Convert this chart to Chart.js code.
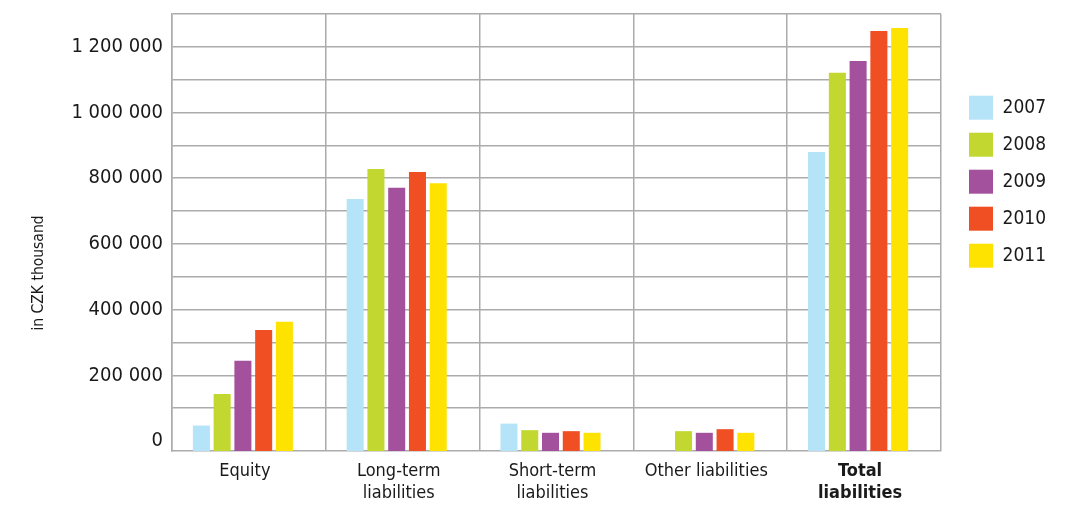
<!DOCTYPE html>
<html>
<head>
<meta charset="utf-8">
<script src="https://cdn.jsdelivr.net/npm/chart.js@4.4.1/dist/chart.umd.min.js"></script>
<style>
  html, body { margin: 0; padding: 0; background: #ffffff; }
  #wrap { width: 1072px; height: 505px; position: relative; }
</style>
</head>
<body>
<div id="wrap"><canvas id="c"></canvas></div>
<script>
// ---- data ----
const categories = [
  ['Equity'],
  ['Long-term', 'liabilities'],
  ['Short-term', 'liabilities'],
  ['Other liabilities'],
  ['Total', 'liabilities']
];
const years = ['2007', '2008', '2009', '2010', '2011'];
const values2007 = [47000, 737000, 53000, null, 880000];
const values2008 = [143000, 828000, 33000, 30000, 1121000];
const values2009 = [244000, 771000, 25000, 25000, 1157000];
const values2010 = [338000, 819000, 30000, 36000, 1248000];
const values2011 = [363000, 785000, 25000, 25000, 1257000];
const seriesColors = ['#b5e3f8', '#c2d72f', '#a3519c', '#f04f24', '#ffe300'];
const yTickValues = [0, 200000, 400000, 600000, 800000, 1000000, 1200000];
const yTickLabels = ['0', '200 000', '400 000', '600 000', '800 000', '1 000 000', '1 200 000'];
const yGridStep = 100000;
const yMax = 1300000;
const yMin = -30400;
const yTitle = 'in CZK thousand';

// ---- style ----
const FONT = "'DejaVu Sans Condensed', 'DejaVu Sans', sans-serif";
const GRID = '#ababab';
const TEXT = '#1a1a1a';
const BAR_SHIFT = -6;

const seriesValues = [values2007, values2008, values2009, values2010, values2011];

const shiftBars = {
  id: 'shiftBars',
  beforeDatasetsDraw(chart) { chart.ctx.save(); chart.ctx.translate(BAR_SHIFT, 0); },
  afterDatasetsDraw(chart) { chart.ctx.restore(); }
};
const yTitlePlugin = {
  id: 'yTitlePlugin',
  afterDraw(chart) {
    const ctx = chart.ctx;
    ctx.save();
    ctx.translate(39, 273);
    ctx.rotate(-Math.PI / 2);
    ctx.font = '15.5px ' + FONT;
    ctx.fillStyle = TEXT;
    ctx.textAlign = 'center';
    ctx.textBaseline = 'middle';
    ctx.fillText(yTitle, 0, 0);
    ctx.restore();
  }
};

new Chart(document.getElementById('c'), {
  type: 'bar',
  data: {
    labels: categories,
    datasets: years.map((y, i) => ({
      label: y,
      data: seriesValues[i],
      backgroundColor: seriesColors[i],
      borderWidth: 0,
      base: yMin,
      categoryPercentage: 0.675,
      barPercentage: 0.82
    }))
  },
  options: {
    responsive: true,
    maintainAspectRatio: false,
    animation: false,
    devicePixelRatio: 1,
    layout: { padding: { top: 14, right: 16, bottom: 0, left: 0 } },
    plugins: {
      tooltip: { enabled: false },
      legend: {
        position: 'right',
        align: 'start',
        title: { display: true, text: ' ', font: { size: 10, lineHeight: 1 }, padding: { top: 58.7, bottom: 0 } },
        labels: {
          boxWidth: 24,
          boxHeight: 24,
          padding: 13,
          color: TEXT,
          font: { family: FONT, size: 19 }
        }
      }
    },
    scales: {
      x: {
        grid: { display: true, offset: true, color: GRID, lineWidth: 1.5, drawTicks: false },
        border: { display: true, color: GRID, width: 1.5 },
        ticks: {
          color: TEXT,
          padding: 10,
          labelOffset: -4,
          maxRotation: 0,
          autoSkip: false,
          font: (ctx) => ({ family: FONT, size: 18, lineHeight: 1.2, weight: ctx.index === 4 ? 'bold' : 'normal' })
        },
        afterFit: (s) => { s.height = 54; s.paddingLeft = 0; s.paddingRight = 0; }
      },
      y: {
        min: yMin,
        max: yMax,
        afterBuildTicks: (s) => {
          const t = [];
          for (let v = 0; v <= yMax; v += yGridStep) t.push({ value: v });
          s.ticks = t;
        },
        grid: {
          color: (ctx) => (ctx.tick && ctx.tick.value === 0) ? 'rgba(0,0,0,0)' : GRID,
          lineWidth: 1.5,
          drawTicks: false
        },
        border: { display: true, color: GRID, width: 1.5 },
        ticks: {
          color: TEXT,
          padding: 9,
          autoSkip: false,
          font: { family: FONT, size: 20 },
          callback: (v) => {
            const k = yTickValues.indexOf(v);
            return k >= 0 ? yTickLabels[k] : '';
          }
        },
        afterFit: (s) => { s.width = 172; s.paddingTop = 0; s.paddingBottom = 0; }
      },
      yR: {
        type: 'linear',
        position: 'right',
        display: true,
        grid: { display: false },
        border: { display: false },
        ticks: { display: false },
        afterFit: (s) => { s.width = 15; s.paddingTop = 0; s.paddingBottom = 0; }
      }
    }
  },
  plugins: [shiftBars, yTitlePlugin]
});
</script>
</body>
</html>
